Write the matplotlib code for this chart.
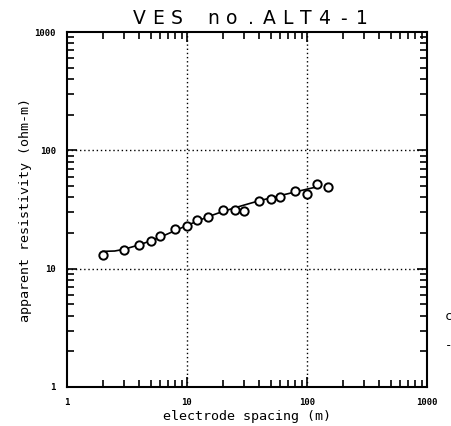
import matplotlib
matplotlib.use("Agg")
import matplotlib.pyplot as plt
from matplotlib.ticker import LogLocator, NullFormatter, FixedLocator, FixedFormatter

# Measured apparent resistivity (open circles)
spacing_obs = [2, 3, 4, 5, 6, 8, 10, 12, 15, 20, 25, 30, 40, 50, 60, 80, 100, 120, 150]
rho_obs = [13.0, 14.3, 15.8, 17.0, 18.9, 21.5, 23.1, 25.9, 27.3, 31.2, 31.4, 30.6,
           37.6, 38.5, 40.4, 45.3, 42.8, 51.8, 49.2]

# Model response curve (solid line)
spacing_fit = [2, 2.5, 3, 4, 5, 6, 8, 10, 15, 20, 30, 40, 60, 80, 100, 120]
rho_fit = [14.0, 14.1, 14.6, 15.9, 17.2, 18.5, 21.0, 23.2, 27.5, 30.5, 34.5, 37.5,
           41.5, 44.5, 47.0, 49.0]

decade_ticks = [1, 10, 100, 1000]
decade_labels = ["1", "10", "100", "1000"]
title_text = "VES no.ALT4-1"

mono = "DejaVu Sans Mono"

fig = plt.figure(figsize=(4.52, 4.26), dpi=100)
ax = fig.add_axes([67 / 452, 1 - 387 / 426, 360 / 452, 355 / 426])

ax.set_xscale("log")
ax.set_yscale("log")
ax.set_xlim(1, 1000)
ax.set_ylim(1, 1000)

ax.plot(spacing_fit, rho_fit, color="black", lw=1.2, zorder=3)
ax.plot(spacing_obs, rho_obs, linestyle="none", marker="o", markersize=6,
        markerfacecolor="white", markeredgecolor="black", markeredgewidth=1.4, zorder=4)

# Dotted grid at interior decades
for v in decade_ticks[1:-1]:
    ax.axvline(v, color="black", lw=1.0, ls=(0, (1, 2)), zorder=1)
    ax.axhline(v, color="black", lw=1.0, ls=(0, (1, 2)), zorder=1)

for axis in (ax.xaxis, ax.yaxis):
    axis.set_major_locator(FixedLocator(decade_ticks))
    axis.set_major_formatter(FixedFormatter(decade_labels))
    axis.set_minor_locator(LogLocator(base=10, subs=range(2, 10)))
    axis.set_minor_formatter(NullFormatter())

ax.tick_params(which="both", direction="in", top=True, right=True, width=1.2)
ax.tick_params(which="major", length=7)
ax.tick_params(which="minor", length=5)
ax.tick_params(axis="x", which="major", pad=8)
ax.tick_params(axis="y", which="major", pad=8)
for lbl in ax.get_xticklabels() + ax.get_yticklabels():
    lbl.set_family(mono)
    lbl.set_fontsize(6.5)
    lbl.set_fontweight("bold")

for s in ax.spines.values():
    s.set_linewidth(1.5)

ax.set_xlabel("electrode spacing (m)", family=mono, fontsize=9.6, labelpad=2)
ax.set_ylabel("apparent resistivity (ohm-m)", family=mono, fontsize=9.6, labelpad=2)

# Wide letter-spaced title, one character per cell
x0, pitch = 139.5, 18.5
for i, ch in enumerate(title_text):
    fig.text((x0 + pitch * i) / 452, 1 - 19 / 426, ch, family="DejaVu Sans",
             fontsize=13.5, ha="center", va="center")

# Stray marks at the right edge
fig.text(449 / 452, 1 - 317 / 426, "c", family=mono, fontsize=9, ha="center", va="center")
fig.text(449 / 452, 1 - 346 / 426, "-", family=mono, fontsize=9, ha="center", va="center")

fig.savefig("out.png", dpi=100)
